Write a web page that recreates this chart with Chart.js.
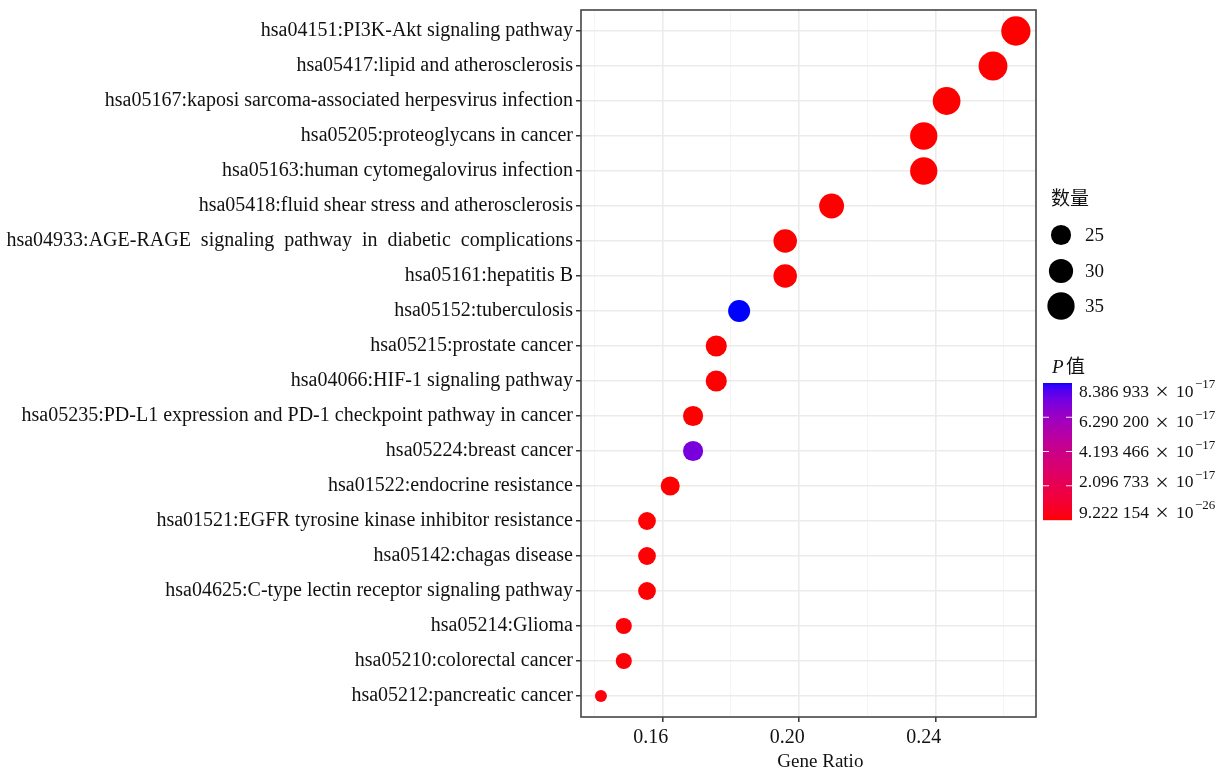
<!DOCTYPE html>
<html><head><meta charset="utf-8">
<script src="https://cdn.jsdelivr.net/npm/chart.js@4/dist/chart.umd.min.js"></script>
<style>html,body{margin:0;padding:0;background:#fff;overflow:hidden}canvas{display:block}</style>
</head><body>
<canvas id="c" width="1222" height="769" style="width:1222px;height:769px"></canvas>
<script>
// ---------- data ----------
const pathways = [
  "hsa04151:PI3K-Akt signaling pathway",
  "hsa05417:lipid and atherosclerosis",
  "hsa05167:kaposi sarcoma-associated herpesvirus infection",
  "hsa05205:proteoglycans in cancer",
  "hsa05163:human cytomegalovirus infection",
  "hsa05418:fluid shear stress and atherosclerosis",
  "hsa04933:AGE-RAGE  signaling  pathway  in  diabetic  complications",
  "hsa05161:hepatitis B",
  "hsa05152:tuberculosis",
  "hsa05215:prostate cancer",
  "hsa04066:HIF-1 signaling pathway",
  "hsa05235:PD-L1 expression and PD-1 checkpoint pathway in cancer",
  "hsa05224:breast cancer",
  "hsa01522:endocrine resistance",
  "hsa01521:EGFR tyrosine kinase inhibitor resistance",
  "hsa05142:chagas disease",
  "hsa04625:C-type lectin receptor signaling pathway",
  "hsa05214:Glioma",
  "hsa05210:colorectal cancer",
  "hsa05212:pancreatic cancer"
];
const geneRatio = [0.2635,0.2568,0.2432,0.2365,0.2365,0.2095,0.1959,0.1959,0.1824,0.1757,0.1757,0.1689,0.1689,0.1622,0.1554,0.1554,0.1554,0.1486,0.1486,0.1419];
const geneCount = [39,38,36,35,35,31,29,29,27,26,26,25,25,24,23,23,23,22,22,21];
const pValue = [9.222154e-26,4.1e-24,2.3e-23,6.5e-23,1.2e-22,3.4e-21,8.8e-21,1.5e-20,8.386933e-17,4.6e-20,6.2e-20,9.1e-20,7.2e-17,2.2e-19,3.5e-19,4.8e-19,5.6e-19,7.7e-19,9.3e-19,1.4e-18];
const xMajorTicks = [0.16,0.20,0.24];
const xMinorTicks = [0.14,0.18,0.22,0.26];
const xLimits = [0.13606,0.2694];
const yLimits = [-0.6,19.6];
const sizeLegendCounts = [25,30,35];
const pLegendMantissa = ["8.386 933","6.290 200","4.193 466","2.096 733","9.222 154"];
const pLegendExponent = ["\u221217","\u221217","\u221217","\u221217","\u221226"];
const pRange = [9.222154e-26, 8.386933e-17];

// ---------- colour scale (Lab interpolation red -> blue) ----------
function toLin(c){c/=255;return c<=0.04045?c/12.92:Math.pow((c+0.055)/1.055,2.4);}
function fromLin(c){c=c<=0.0031308?12.92*c:1.055*Math.pow(c,1/2.4)-0.055;return Math.max(0,Math.min(255,Math.round(c*255)));}
function rgb2lab(r,g,b){
  r=toLin(r);g=toLin(g);b=toLin(b);
  let X=(0.4124*r+0.3576*g+0.1805*b)/0.95047,Y=(0.2126*r+0.7152*g+0.0722*b),Z=(0.0193*r+0.1192*g+0.9505*b)/1.08883;
  const f=t=>t>0.008856?Math.cbrt(t):7.787*t+16/116;
  const fx=f(X),fy=f(Y),fz=f(Z);
  return [116*fy-16,500*(fx-fy),200*(fy-fz)];
}
function lab2rgb(L,a,b){
  const fy=(L+16)/116,fx=fy+a/500,fz=fy-b/200;
  const fi=t=>{const t3=t*t*t;return t3>0.008856?t3:(t-16/116)/7.787;};
  const X=fi(fx)*0.95047,Y=fi(fy),Z=fi(fz)*1.08883;
  const r=3.2406*X-1.5372*Y-0.4986*Z,g=-0.9689*X+1.8758*Y+0.0415*Z,bb=0.0557*X-0.2040*Y+1.0570*Z;
  return `rgb(${fromLin(r)},${fromLin(g)},${fromLin(bb)})`;
}
const LOW=rgb2lab(255,0,0), HIGH=rgb2lab(0,0,255);
function colorAt(t){t=Math.max(0,Math.min(1,t));return lab2rgb(LOW[0]+(HIGH[0]-LOW[0])*t,LOW[1]+(HIGH[1]-LOW[1])*t,LOW[2]+(HIGH[2]-LOW[2])*t);}
function colorForP(p){return colorAt((p-pRange[0])/(pRange[1]-pRange[0]));}

// ---------- size scale ----------
const cMin=Math.min(...geneCount), cMax=Math.max(...geneCount);
function radiusFor(c){const s=1+5*Math.sqrt(Math.max(0,(c-cMin)/(cMax-cMin)));return 4.27+1.73*s;}

const SERIF="'Liberation Serif','Times New Roman',serif";
const CJK="'Noto Sans CJK SC',sans-serif";

const points = geneRatio.map((v,i)=>({x:v,y:i}));

const decorPlugin = {
  id:'decor',
  afterDatasetsDraw(chart){
    const ctx=chart.ctx, a=chart.chartArea;
    ctx.save();
    ctx.strokeStyle='#454545'; ctx.lineWidth=1.6;
    ctx.strokeRect(a.left,a.top,a.right-a.left,a.bottom-a.top);
    ctx.restore();
  },
  afterDraw(chart){
    const ctx=chart.ctx;
    ctx.save();
    ctx.fillStyle='#111';
    ctx.textBaseline='middle'; ctx.textAlign='left';
    // size legend
    ctx.font=`19px ${CJK}`;
    ctx.fillText('数量',1051,198);
    const ys=[235,271,306];
    sizeLegendCounts.forEach((c,i)=>{
      ctx.beginPath(); ctx.fillStyle='#000';
      ctx.arc(1061,ys[i],radiusFor(c),0,Math.PI*2); ctx.fill();
      ctx.fillStyle='#111'; ctx.font=`19px ${SERIF}`;
      ctx.fillText(String(c),1085,ys[i]+1);
    });
    // colour legend title
    ctx.font=`italic 19px ${SERIF}`;
    ctx.fillText('P',1052,368);
    ctx.font=`19px ${CJK}`;
    ctx.fillText('值',1066,366);
    // colour bar
    const bx=1043,bw=29,bt=383,bb=520,bh=bb-bt;
    for(let k=0;k<bh;k++){
      ctx.fillStyle=colorAt(1-(k+0.5)/bh);
      ctx.fillRect(bx,bt+k,bw,1.2);
    }
    ctx.strokeStyle='rgba(255,255,255,0.9)'; ctx.lineWidth=1;
    [0.25,0.5,0.75].forEach(f=>{
      const y=bt+f*bh;
      ctx.beginPath();ctx.moveTo(bx,y);ctx.lineTo(bx+6,y);ctx.moveTo(bx+bw-6,y);ctx.lineTo(bx+bw,y);ctx.stroke();
    });
    // colour labels
    ctx.fillStyle='#111';
    pLegendMantissa.forEach((m,i)=>{
      const y=392+i*(513-392)/(pLegendMantissa.length-1);
      ctx.font=`17.5px ${SERIF}`; ctx.textAlign='left';
      ctx.fillText(m,1079,y);
      ctx.font=`24px ${SERIF}`; ctx.textAlign='center';
      ctx.fillText('\u00D7',1162,y+1);
      ctx.font=`17.5px ${SERIF}`; ctx.textAlign='left';
      ctx.fillText('10',1176,y);
      ctx.font=`13px ${SERIF}`;
      ctx.fillText(pLegendExponent[i],1195,y-7);
    });
    ctx.restore();
  }
};

new Chart(document.getElementById('c'),{
  type:'scatter',
  data:{datasets:[{
    data:points,
    pointRadius:geneCount.map(radiusFor),
    pointHoverRadius:geneCount.map(radiusFor),
    pointBackgroundColor:pValue.map(colorForP),
    pointBorderWidth:0,
    pointBorderColor:'rgba(0,0,0,0)'
  }]},
  options:{
    responsive:false, animation:false, devicePixelRatio:1,
    layout:{autoPadding:false,padding:{left:0,right:186,top:10,bottom:0}},
    plugins:{legend:{display:false},tooltip:{enabled:false}},
    scales:{
      x:{
        type:'linear', min:xLimits[0], max:xLimits[1],
        afterBuildTicks:s=>{s.ticks=[...xMajorTicks,...xMinorTicks].sort((a,b)=>a-b).map(v=>({value:v}));},
        afterFit:s=>{s.height=52;s.paddingLeft=0;s.paddingRight=0;},
        border:{display:false},
        grid:{
          color:c=>xMajorTicks.some(v=>Math.abs(v-c.tick.value)<1e-9)?'#EBEBEB':'#F4F4F4',
          lineWidth:c=>xMajorTicks.some(v=>Math.abs(v-c.tick.value)<1e-9)?1.6:0.9,
          tickColor:c=>xMajorTicks.some(v=>Math.abs(v-c.tick.value)<1e-9)?'#333':'rgba(0,0,0,0)',
          tickWidth:1.5, tickLength:5, drawTicks:true
        },
        ticks:{
          autoSkip:false, maxRotation:0, padding:4, labelOffset:-12,
          color:'#111', font:{family:SERIF,size:20},
          callback:v=>xMajorTicks.some(t=>Math.abs(t-v)<1e-9)?v.toFixed(2):''
        },
        title:{display:true,text:'     Gene Ratio',color:'#111',font:{family:SERIF,size:19,lineHeight:1},padding:{top:0,bottom:-3}}
      },
      y:{
        type:'linear', reverse:true, min:yLimits[0], max:yLimits[1],
        afterBuildTicks:s=>{s.ticks=pathways.map((_,i)=>({value:i}));},
        afterFit:s=>{s.width=581;s.paddingTop=0;s.paddingBottom=0;},
        border:{display:false},
        grid:{color:'#EBEBEB',lineWidth:1.5,tickColor:'#333',tickWidth:1.5,tickLength:5},
        ticks:{
          autoSkip:false, padding:3, color:'#111', font:{family:SERIF,size:20},
          callback:v=>pathways[v]
        }
      }
    }
  },
  plugins:[decorPlugin]
});
</script>
</body></html>
